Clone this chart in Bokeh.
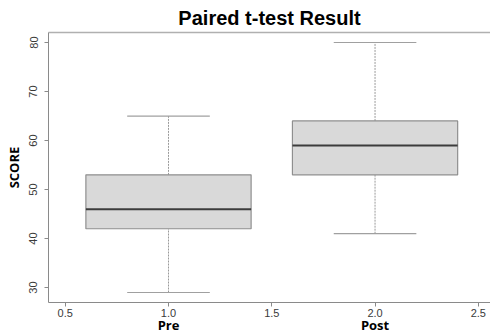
from bokeh.plotting import figure
from bokeh.models import ColumnDataSource, LinearAxis, FixedTicker, Range1d
from bokeh.embed import file_html
from bokeh.resources import INLINE

# ---- data ----
categories = ["Pre", "Post"]
positions = [1.0, 2.0]
whisker_low = [29, 41]
q1 = [42, 53]
median = [46, 59]
q3 = [53, 64]
whisker_high = [65, 80]
x_ticks = [0.5, 1.0, 1.5, 2.0, 2.5]
y_ticks = [30, 40, 50, 60, 70, 80]

BOX_HALF = 0.4
CAP_HALF = 0.2

src = ColumnDataSource(dict(
    x=positions,
    lo=whisker_low, q1=q1, med=median, q3=q3, hi=whisker_high,
    bx0=[p - BOX_HALF for p in positions], bx1=[p + BOX_HALF for p in positions],
    cx0=[p - CAP_HALF for p in positions], cx1=[p + CAP_HALF for p in positions],
))

p = figure(width=490, height=336, output_backend="svg", toolbar_location=None,
           x_range=Range1d(0.419, 2.559), y_range=Range1d(26.96, 82.04),
           min_border_left=48, min_border_right=0, min_border_top=31, min_border_bottom=33,
           x_axis_location=None, y_axis_location=None)
p.outline_line_color = None
p.grid.visible = False
p.background_fill_color = "white"
p.border_fill_color = "white"

p.title.text = "Paired t-test Result"
p.title.text_font = "Liberation Sans"
p.title.text_font_style = "bold"
p.title.text_font_size = "20px"
p.title.text_color = "#000000"
p.title.align = "center"
p.title.standoff = 8
p.title.offset = 3

AX = "#8a8a8a"
TXT = "#3a3a3a"

xa = LinearAxis(ticker=FixedTicker(ticks=x_ticks),
                major_label_overrides={t: f"{t:.1f}" for t in x_ticks})
xa.axis_line_color = AX
xa.major_tick_line_color = AX
xa.major_tick_in = 0
xa.major_tick_out = 4
xa.minor_tick_line_color = None
xa.major_label_text_font = "Liberation Sans"
xa.major_label_text_font_size = "11px"
xa.major_label_text_color = TXT
xa.major_label_standoff = 2
p.add_layout(xa, "below")

ca = LinearAxis(ticker=FixedTicker(ticks=positions),
                major_label_overrides={pos: c for pos, c in zip(positions, categories)})
ca.axis_line_color = None
ca.major_tick_line_color = None
ca.minor_tick_line_color = None
ca.major_tick_in = 0
ca.major_tick_out = 0
ca.major_label_standoff = -4
ca.major_label_text_font = "Open Sans"
ca.major_label_text_font_style = "bold"
ca.major_label_text_font_size = "13px"
ca.major_label_text_color = "#000000"
p.add_layout(ca, "below")

ya = LinearAxis(ticker=FixedTicker(ticks=y_ticks), axis_label="SCORE")
ya.axis_line_color = AX
ya.major_tick_line_color = AX
ya.major_tick_in = 0
ya.major_tick_out = 4
ya.minor_tick_line_color = None
ya.major_label_orientation = "vertical"
ya.major_label_text_font = "Liberation Sans"
ya.major_label_text_font_size = "11px"
ya.major_label_text_color = TXT
ya.major_label_standoff = 7
ya.axis_label_text_font = "Open Sans"
ya.axis_label_text_font_style = "bold"
ya.axis_label_text_font_size = "13px"
ya.axis_label_text_color = "#000000"
ya.axis_label_standoff = 4
p.add_layout(ya, "left")

ta = LinearAxis(ticker=FixedTicker(ticks=[]))
ta.axis_line_color = "#b0b0b0"
ta.axis_line_width = 1.5
ta.major_tick_line_color = None
ta.minor_tick_line_color = None
ta.major_tick_in = 0
ta.major_tick_out = 0
ta.major_label_text_font_size = "0px"
ta.major_label_standoff = 0
p.add_layout(ta, "above")

p.segment(x0="x", y0="q3", x1="x", y1="hi", source=src, line_color="#9a9a9a", line_dash="2 1", line_width=1)
p.segment(x0="x", y0="lo", x1="x", y1="q1", source=src, line_color="#9a9a9a", line_dash="2 1", line_width=1)
p.segment(x0="cx0", y0="hi", x1="cx1", y1="hi", source=src, line_color="#a0a0a0", line_width=1.2)
p.segment(x0="cx0", y0="lo", x1="cx1", y1="lo", source=src, line_color="#a0a0a0", line_width=1.2)
p.quad(left="bx0", right="bx1", bottom="q1", top="q3", source=src,
       fill_color="#d9d9d9", line_color="#8f8f8f", line_width=1.2)
p.segment(x0="bx0", y0="med", x1="bx1", y1="med", source=src, line_color="#3c3c3c", line_width=2)

open("out.html", "w").write(file_html(p, INLINE))
